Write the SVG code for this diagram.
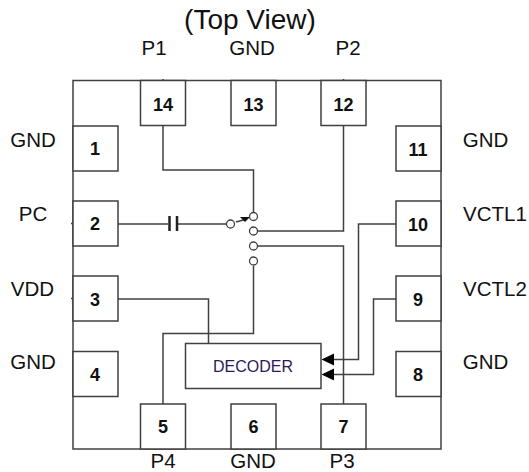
<svg xmlns="http://www.w3.org/2000/svg" width="529" height="472" viewBox="0 0 529 472">
<style>
.b{fill:#fff;stroke:#404040;stroke-width:1.5}
.c{fill:none;stroke:#404040;stroke-width:1.5}
.o{fill:#fff;stroke:#404040;stroke-width:1.3}
.l{font:20.500px "Liberation Sans",Arial,sans-serif;fill:#111;text-anchor:middle}
.n{font:bold 18px "Liberation Sans",Arial,sans-serif;fill:#111;text-anchor:middle}
</style>
<rect id="package" class="b" x="73" y="80.500" width="368" height="368.500"/>
<text class="l" x="250" y="29" style="font-size:28px">(Top View)</text>
<text class="l" x="154" y="55">P1</text><text class="l" x="252" y="55">GND</text><text class="l" x="348" y="55">P2</text>
<text class="l" x="33" y="147">GND</text><text class="l" x="33" y="221">PC</text><text class="l" x="32.500" y="296">VDD</text><text class="l" x="33" y="369">GND</text>
<text class="l" x="485.500" y="147">GND</text><text class="l" x="495" y="221">VCTL1</text><text class="l" x="495" y="296">VCTL2</text><text class="l" x="485.500" y="369">GND</text>
<text class="l" x="163" y="467.500">P4</text><text class="l" x="253" y="467.500">GND</text><text class="l" x="342" y="467.500">P3</text>
<g id="connectors">
<path class="c" d="M163 79V80M343.500 79V80M71 223.500H73M71 298.500H73"/>
<path class="c" d="M163 125.500V170H253.500V216"/>
<path class="c" d="M118 224H168M178 224H227"/>
<path d="M169.500 216V231M177 216V231" fill="none" stroke="#222" stroke-width="2.500"/>
<path class="c" d="M236 222L247 219"/>
<path d="M240 217L250 217L245 222Z" fill="#111"/>
<path class="c" d="M258 231H343.500V80.500"/>
<path class="c" d="M258 246H343.500V404"/>
<path class="c" d="M253.500 266V333.500H163V404"/>
<path class="c" d="M118 299H208.500V343.500"/>
<path class="c" d="M396 224H358.500V359.500H333"/>
<path class="c" d="M396 299H373.500V374.500H333"/>
<path d="M321.500 359.500L334 353.500V365.500Z M321.500 374.500L334 368.500V380.500Z" fill="#000"/>
<circle class="o" cx="230.500" cy="224" r="4"/><circle class="o" cx="253.500" cy="216.500" r="4"/><circle class="o" cx="253.500" cy="231" r="4"/><circle class="o" cx="253.500" cy="246" r="4"/><circle class="o" cx="253.500" cy="261" r="4"/>
</g>
<g id="pin14"><rect class="b" x="140.500" y="80.500" width="45" height="45"/><text class="n" x="163" y="110.500">14</text></g>
<g id="pin13"><rect class="b" x="231" y="80.500" width="45" height="45"/><text class="n" x="253.500" y="110.500">13</text></g>
<g id="pin12"><rect class="b" x="321" y="80.500" width="45" height="45"/><text class="n" x="343.500" y="110.500">12</text></g>
<g id="pin1"><rect class="b" x="73" y="126" width="45" height="45"/><text class="n" x="95" y="155">1</text></g>
<g id="pin2"><rect class="b" x="73" y="201" width="45" height="45"/><text class="n" x="95" y="230">2</text></g>
<g id="pin3"><rect class="b" x="73" y="276" width="45" height="45"/><text class="n" x="95" y="305.500">3</text></g>
<g id="pin4"><rect class="b" x="73" y="351.500" width="45" height="45"/><text class="n" x="95" y="380.500">4</text></g>
<g id="pin11"><rect class="b" x="396" y="126" width="45" height="45"/><text class="n" x="418" y="155.500">11</text></g>
<g id="pin10"><rect class="b" x="396" y="201" width="45" height="45"/><text class="n" x="418" y="230.500">10</text></g>
<g id="pin9"><rect class="b" x="396" y="276" width="45" height="45"/><text class="n" x="418" y="305.500">9</text></g>
<g id="pin8"><rect class="b" x="396" y="351.500" width="45" height="45"/><text class="n" x="418" y="380.500">8</text></g>
<g id="pin5"><rect class="b" x="140.500" y="404" width="45" height="45"/><text class="n" x="163" y="432.500">5</text></g>
<g id="pin6"><rect class="b" x="231" y="404" width="45" height="45"/><text class="n" x="253.500" y="432.500">6</text></g>
<g id="pin7"><rect class="b" x="321" y="404" width="45" height="45"/><text class="n" x="343.500" y="432.500">7</text></g>
<g id="decoder"><rect x="185.500" y="343.500" width="135.500" height="45" fill="none" stroke="#404040" stroke-width="1.500"/><text x="253" y="372" text-anchor="middle" style="font:16px 'Liberation Sans',Arial,sans-serif" fill="#2a1a5a">DECODER</text></g>
</svg>
